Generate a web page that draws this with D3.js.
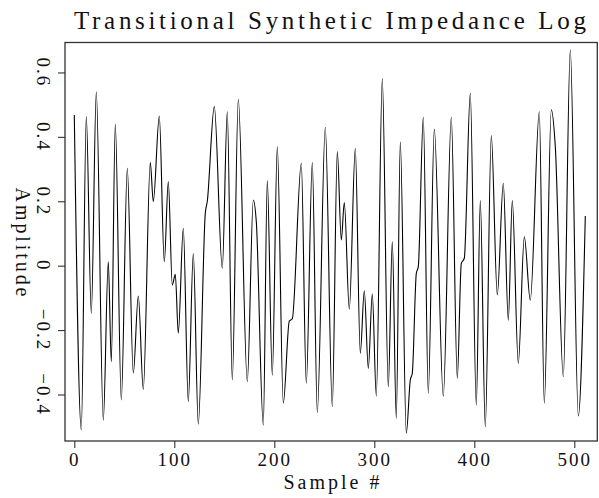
<!DOCTYPE html>
<html>
<head>
<meta charset="utf-8">
<script src="https://cdn.jsdelivr.net/npm/d3@7"></script>
<style>
  body { margin: 0; background: #fff; }
  text { font-family: "Liberation Serif", serif; fill: #111; }
</style>
</head>
<body>
<svg id="chart"></svg>
<script>
// Data: sample index and amplitude at extrema / shoulders
const samples = [0, 7, 12, 17, 22, 29, 34, 37, 41, 47,
  53, 59, 64, 69, 76, 79, 85, 90, 94, 98,
  101, 104, 109, 114, 119, 124, 131, 133, 140, 148,
  153, 158, 164, 173, 179, 182, 189, 193, 198, 203,
  209, 215, 218, 227, 232, 238, 243, 251, 258, 263,
  267, 270, 275, 281, 286, 290, 294, 298, 302, 308,
  314, 318, 322, 326, 332, 336, 338, 342, 344, 349,
  354, 360, 369, 377, 383, 387, 390, 396, 402, 406,
  411, 417, 423, 429, 434, 438, 444, 450, 456, 465,
  470, 477, 481, 489, 496, 504, 511];
const amplitude = [0.468, -0.51, 0.463, -0.148, 0.54, -0.48, 0.012, -0.298, 0.44, -0.417,
  0.302, -0.334, -0.094, -0.384, 0.32, 0.199, 0.465, 0.012, 0.261, -0.06,
  -0.027, -0.21, 0.116, -0.422, 0.038, -0.492, 0.163, 0.2, 0.494, -0.008,
  0.478, -0.355, 0.517, -0.36, 0.204, 0.137, -0.495, 0.264, -0.34, 0.37,
  -0.427, -0.172, -0.165, 0.318, -0.365, 0.32, -0.456, 0.43, -0.438, 0.354,
  0.08, 0.196, -0.135, 0.364, -0.272, -0.078, -0.319, -0.088, -0.405, 0.58,
  -0.376, 0.075, -0.474, 0.385, -0.52, -0.355, -0.334, -0.024, -0.003, 0.461,
  -0.396, 0.424, -0.405, 0.461, -0.35, 0.007, 0.023, 0.535, -0.433, 0.202,
  -0.5, 0.404, -0.091, 0.256, -0.169, 0.202, -0.303, 0.09, -0.107, 0.478,
  -0.427, 0.484, 0.37, -0.345, 0.67, -0.467, 0.154];
const xTicks = [0, 100, 200, 300, 400, 500];
const yTicks = [-0.4, -0.2, 0, 0.2, 0.4, 0.6];

// SVG constants
const WIDTH = 599;
const HEIGHT = 498;
const LEFT = 65, RIGHT = 597.3, TOP = 42.5, BOTTOM = 441;

const svg = d3.select("#chart")
  .attr("width", WIDTH)
  .attr("height", HEIGHT);

// Scales
const xScale = d3.scaleLinear().domain([-9.3, 523]).range([LEFT, RIGHT]);
const yScale = d3.scaleLinear().domain([-0.5444, 0.693]).range([BOTTOM, TOP]);

// Title
svg.append("text")
  .attr("x", 330)
  .attr("y", 29)
  .attr("text-anchor", "middle")
  .attr("font-size", 25)
  .attr("textLength", 512)
  .attr("lengthAdjust", "spacing")
  .text("Transitional Synthetic Impedance Log");

// Trace
const points = samples.map((s, i) => [s, amplitude[i]]);
const line = d3.line()
  .x(d => xScale(d[0]))
  .y(d => yScale(d[1]))
  .curve(d3.curveMonotoneX);

svg.append("path")
  .datum(points)
  .attr("fill", "none")
  .attr("stroke", "#000")
  .attr("stroke-width", 1.1)
  .attr("d", line);

// Frame
svg.append("rect")
  .attr("x", LEFT)
  .attr("y", TOP)
  .attr("width", RIGHT - LEFT)
  .attr("height", BOTTOM - TOP)
  .attr("fill", "none")
  .attr("stroke", "#333")
  .attr("stroke-width", 1.3);

// X axis
const xAxis = svg.append("g")
  .attr("transform", `translate(0,${BOTTOM})`)
  .call(d3.axisBottom(xScale).tickValues(xTicks).tickSize(7).tickSizeOuter(0).tickPadding(5));
xAxis.select(".domain").remove();
xAxis.selectAll(".tick line").attr("stroke", "#333").attr("stroke-width", 1.1);
xAxis.selectAll(".tick text")
  .attr("font-size", 19)
  .attr("font-family", "Liberation Serif")
  .attr("letter-spacing", 2)
  .attr("fill", "#111");

// Y axis
const fmt = d => d === 0 ? "0" : d3.format(".1f")(d);
const yAxis = svg.append("g")
  .attr("transform", `translate(${LEFT},0)`)
  .call(d3.axisLeft(yScale).tickValues(yTicks).tickSize(7).tickSizeOuter(0).tickFormat(""));
yAxis.select(".domain").remove();
yAxis.selectAll(".tick line").attr("stroke", "#333").attr("stroke-width", 1.1);

svg.selectAll(".ylabel")
  .data(yTicks)
  .enter()
  .append("text")
  .attr("class", "ylabel")
  .attr("transform", d => `translate(37,${yScale(d)}) rotate(90)`)
  .attr("text-anchor", "middle")
  .attr("font-size", 19)
  .attr("letter-spacing", 2)
  .text(fmt);

// Axis titles
svg.append("text")
  .attr("x", 331.5)
  .attr("y", 489)
  .attr("text-anchor", "middle")
  .attr("font-size", 20)
  .attr("textLength", 96)
  .attr("lengthAdjust", "spacing")
  .text("Sample #");

svg.append("text")
  .attr("transform", `translate(16,242) rotate(90)`)
  .attr("text-anchor", "middle")
  .attr("font-size", 20)
  .attr("textLength", 109)
  .attr("lengthAdjust", "spacing")
  .text("Amplitude");
</script>
</body>
</html>
